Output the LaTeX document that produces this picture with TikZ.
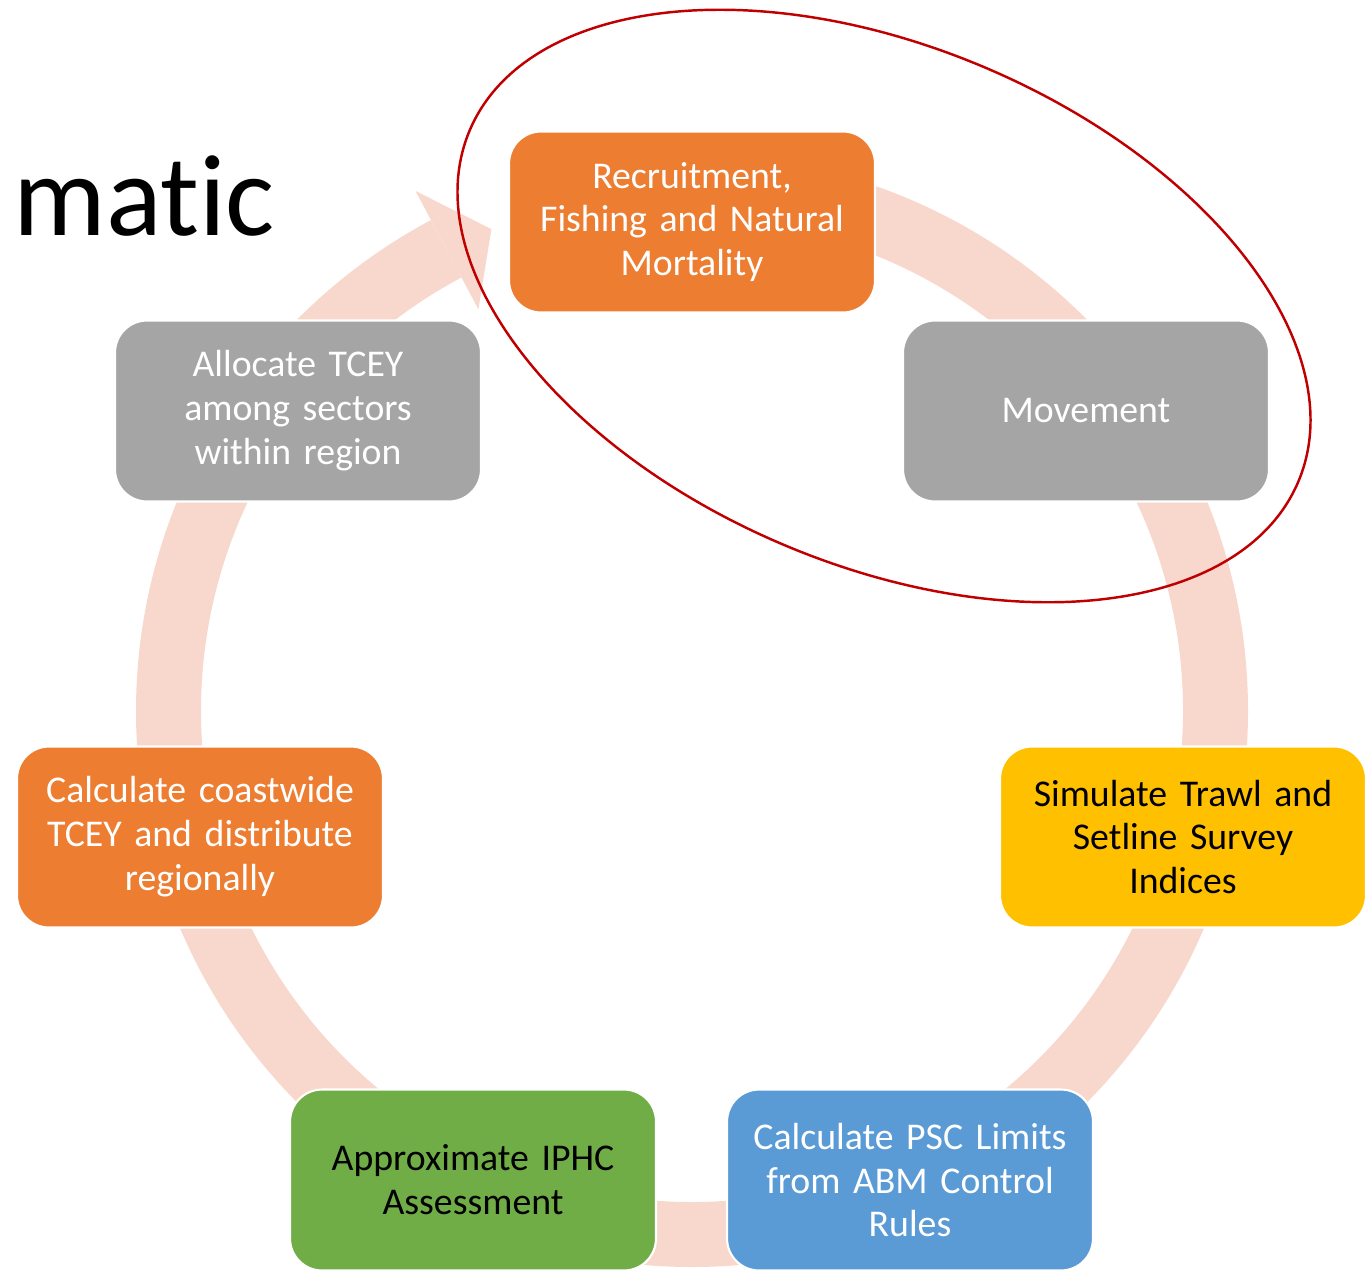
\documentclass[tikz,border=0pt]{standalone}
\usepackage{fontspec}
\setmainfont{Carlito}[Ligatures=NoCommon]
\usetikzlibrary{calc}
\definecolor{boxorange}{HTML}{ED7D31}
\definecolor{boxgray}{HTML}{A5A5A5}
\definecolor{boxyellow}{HTML}{FFC000}
\definecolor{boxblue}{HTML}{5B9BD5}
\definecolor{boxgreen}{HTML}{70AD47}
\definecolor{ringpink}{RGB}{248,216,205}
\definecolor{markred}{HTML}{C00000}
\begin{document}
\begin{tikzpicture}[x=0.02cm, y=-0.02cm,
    stage/.style={draw=white, line width=1.2pt, rounded corners=0.64cm,
      minimum width=7.32cm, minimum height=3.62cm, text width=7cm, align=center,
      font=\fontsize{21.5}{25}\selectfont},
    ring/.style={draw=ringpink, line width=1.3cm},
    focusloop/.style={draw=markred, line width=1.4pt}]
    \useasboundingbox (0,0) rectangle (1371,1282) ;
    \node [anchor=base west, inner sep=0pt, font=\fontsize{66}{66}\selectfont] (title) at (13,235) {matic} ;

    \coordinate (ctr) at (692,711) ;
    \draw [ring] ($(ctr)+(-90:523.5)$) arc [start angle=-90, end angle=242, radius=523.5] ;
    \fill [ringpink] ($(ctr)+(242:589)$) -- ($(ctr)+(247.4:522)$) -- ($(ctr)+(242:455)$) -- cycle ;

    \node [stage, fill=boxorange, text=white] (recruit) at (692,222) {Recruitment,\\Fishing and Natural\\Mortality} ;
    \node [stage, fill=boxgray, text=white] (move) at (1086,411) {Movement} ;
    \node [stage, fill=boxyellow, text=black] (survey) at (1183,837) {Simulate Trawl and\\Setline Survey\\Indices} ;
    \node [stage, fill=boxblue, text=white] (psc) at (910,1180) {Calculate PSC Limits\\from ABM Control\\Rules} ;
    \node [stage, fill=boxgreen, text=black] (assess) at (473,1180) {Approximate IPHC\\Assessment} ;
    \node [stage, fill=boxorange, text=white] (coast) at (200,837) {Calculate coastwide\\TCEY and distribute\\regionally} ;
    \node [stage, fill=boxgray, text=white] (alloc) at (298,411) {Allocate TCEY\\among sectors\\within region} ;

    \draw [focusloop, rotate around={-23:(884,306)}] (884,306) ellipse [x radius=450, y radius=259] ;
\end{tikzpicture}
\end{document}
